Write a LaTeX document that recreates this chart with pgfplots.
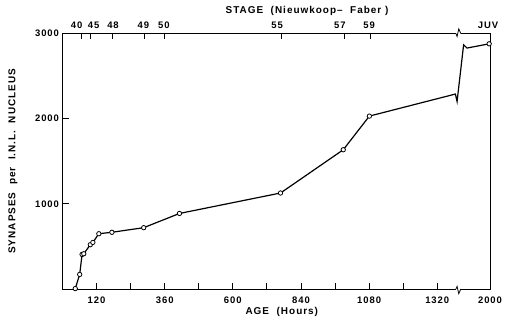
\documentclass[border=0pt]{standalone}
\usepackage{fontspec}
\setmainfont{Liberation Sans}
\newfontfamily\lab[LetterSpace=10]{Liberation Sans Bold}
\usepackage{pgfplots}
\pgfplotsset{compat=1.18}
\pgfplotstableread{
pos y
45 5
60.5 171
69 406
75 414
98 520
107 547
128 649
174 666
286 720
412 887
768 1127
989 1635
1081 2030
}\marked
\pgfplotstableread{
pos y
1081 2030
1384 2289
1390 2202
1413 2867
1425 2829
1503 2879
}\brk
\pgfplotsset{
  common/.style={
    at={(62.5bp,36bp)}, anchor=south west,
    scale only axis, width=427.5bp, height=255.5bp,
    xmin=0, xmax=1506, ymin=0, ymax=3000,
    tick align=inside, major tick length=6bp,
    tick style={line width=0.8bp, black},
    /pgf/number format/assume math mode=true,
    tick label style={font=\lab\fontsize{9.5}{11}\selectfont},
    label style={font=\lab\fontsize{10}{12}\selectfont},
  }
}
\begin{document}
\begin{tikzpicture}[x=1bp,y=1bp]
\useasboundingbox (0,0) rectangle (509,325);
\begin{axis}[
  common,
  clip=false,
  axis line style={line width=0.8bp},
  xtick pos=bottom, ytick pos=left,
  xtick={120,240,360,480,600,720,840,960,1080,1200,1320,1506},
  xticklabels={120,,360,,600,,840,,1080,,1320,2000},
  ytick={1000,2000,3000},
  yticklabels={1000,2000,3000},
  xticklabel style={yshift=-4bp},
  xlabel={AGE\ \ (Hours)},
  xlabel style={at={(axis description cs:0.513,-0.09)}, anchor=center},
  ylabel={SYNAPSES\ \ per\ \ I.N.L.\ \ NUCLEUS},
  ylabel style={at={(axis description cs:-0.116,0.5)}, anchor=center},
]
\addplot[black, line width=1.2bp, mark=*, mark size=2.2bp,
  mark options={fill=white, line width=0.8bp}] table[x=pos,y=y] {\marked};
\addplot[black, line width=1.2bp, mark=none] table[x=pos,y=y] {\brk};
\addplot[black, mark=*, mark size=2.2bp, only marks,
  mark options={fill=white, line width=0.8bp}] coordinates {(1503,2879)};
% axis breaks
\fill[white] (axis cs:1387,-30) rectangle (axis cs:1403,30);
\draw[line width=0.8bp] (axis cs:1386,0) -- (axis cs:1390,30) -- (axis cs:1396,-55) -- (axis cs:1403,0);
\fill[white] (axis cs:1387,2970) rectangle (axis cs:1403,3030);
\draw[line width=0.8bp] (axis cs:1386,3000) -- (axis cs:1390,2965) -- (axis cs:1396,3055) -- (axis cs:1403,3000);
\end{axis}
% top stage ticks
\begin{axis}[
  common,
  axis x line*=top, axis y line=none,
  x axis line style={-, draw=none},
  xtick={67.6,100,177,287,357.6,772,993,1083,1506},
  xticklabels={},
]
\end{axis}
% top stage labels
\begin{axis}[
  common,
  axis x line*=top, axis y line=none,
  x axis line style={-, draw=none},
  major tick length=0pt,
  xtick={50,110,178,285,357,756,977,1080,1499},
  xticklabels={40,45,48,49,50,55,57,59,JUV},
  xticklabel style={yshift=1bp},
  xlabel={STAGE\ \ (Nieuwkoop–\ \ Faber )},
  xlabel style={at={(axis description cs:0.572,1.089)}, anchor=center},
]
\end{axis}
\end{tikzpicture}
\end{document}
